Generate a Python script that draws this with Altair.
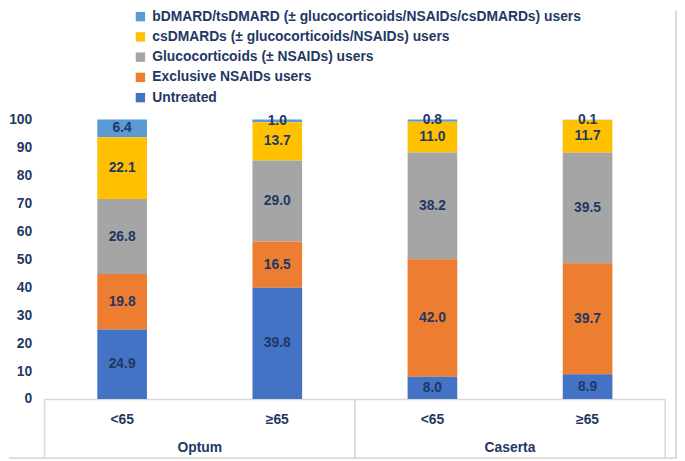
import altair as alt
import pandas as pd

groups = ["Optum", "Optum", "Caserta", "Caserta"]
ages = ["<65", "≥65", "<65", "≥65"]

series_names = [
    "bDMARD/tsDMARD (± glucocorticoids/NSAIDs/csDMARDs) users",
    "csDMARDs (± glucocorticoids/NSAIDs) users",
    "Glucocorticoids (± NSAIDs) users",
    "Exclusive NSAIDs users",
    "Untreated",
]
bdmard = [6.4, 1.0, 0.8, 0.1]
csdmard = [22.1, 13.7, 11.0, 11.7]
gluco = [26.8, 29.0, 38.2, 39.5]
nsaids = [19.8, 16.5, 42.0, 39.7]
untreated = [24.9, 39.8, 8.0, 8.9]
series_values = [bdmard, csdmard, gluco, nsaids, untreated]
series_colors = ["#5B9BD5", "#FFC000", "#A5A5A5", "#ED7D31", "#4472C4"]

NAVY = "#1F3864"
FONT = "Liberation Sans"
LINE = "#D9D9D9"
W, H = 628, 283

rows = []
keys = [f"{g} {a}" for g, a in zip(groups, ages)]
for si, (name, vals) in enumerate(zip(series_names, series_values)):
    for i, v in enumerate(vals):
        rows.append({"key": keys[i], "group": groups[i], "age": ages[i],
                     "series": name, "order": len(series_names) - si, "value": v})
df = pd.DataFrame(rows)

cat_df = pd.DataFrame({"key": keys, "group": groups, "age": ages})
grp_df = pd.DataFrame({"group": ["Optum", "Caserta"]})

xscale = alt.Scale(domain=keys, paddingInner=0, paddingOuter=0)
gscale = alt.Scale(domain=["Optum", "Caserta"], paddingInner=0, paddingOuter=0)
yscale = alt.Scale(domain=[0, 100], nice=False)
yaxis = alt.Axis(values=list(range(0, 101, 10)), grid=False, ticks=False,
                 domain=False, title=None, labelFont=FONT, labelFontSize=14,
                 labelFontWeight="bold", labelColor=NAVY, labelPadding=13)

base = alt.Chart(df).transform_stack(
    stack="value", groupby=["key"], sort=[alt.SortField("order", order="ascending")],
    as_=["y0", "y1"]
).transform_calculate(mid="(datum.y0 + datum.y1) / 2")

bars = base.mark_bar(width=alt.RelativeBandSize(0.32)).encode(
    x=alt.X("key:N", scale=xscale, sort=keys,
            axis=alt.Axis(labels=False, ticks=False, title=None, domain=True,
                          domainColor=LINE, domainWidth=1.5)),
    y=alt.Y("y0:Q", scale=yscale, axis=yaxis, title=None),
    y2="y1:Q",
    color=alt.Color("series:N", scale=alt.Scale(domain=series_names, range=series_colors),
                    legend=alt.Legend(title=None, orient="none", legendX=90, legendY=-111,
                                      symbolType="square", symbolSize=90,
                                      symbolStrokeWidth=0, labelFont=FONT,
                                      labelFontSize=14, labelFontWeight="bold",
                                      labelColor=NAVY, rowPadding=6.5, labelOffset=5,
                                      padding=0, labelLimit=600)),
)

labels = base.mark_text(font=FONT, fontSize=14, fontWeight="bold", color=NAVY,
                        baseline="middle").encode(
    x=alt.X("key:N", scale=xscale, sort=keys, axis=None),
    y=alt.Y("mid:Q", scale=yscale, axis=yaxis, title=None),
    text=alt.Text("value:Q", format=".1f"),
)

age_text = alt.Chart(cat_df).mark_text(font=FONT, fontSize=14, fontWeight="bold",
                                       color=NAVY, baseline="middle").encode(
    x=alt.X("key:N", scale=xscale, sort=keys, axis=None),
    y=alt.value(H + 21),
    text="age:N",
)

grp_text = alt.Chart(grp_df).mark_text(font=FONT, fontSize=14, fontWeight="bold",
                                       color=NAVY, baseline="middle").encode(
    x=alt.X("group:N", scale=gscale, sort=["Optum", "Caserta"], axis=None),
    y=alt.value(H + 50),
    text="group:N",
)

sep_left = alt.Chart(grp_df).mark_rule(color=LINE, strokeWidth=1.5).encode(
    x=alt.X("group:N", scale=gscale, sort=["Optum", "Caserta"], axis=None, bandPosition=0),
    y=alt.value(H), y2=alt.value(H + 60),
)
sep_right = alt.Chart(grp_df).mark_rule(color=LINE, strokeWidth=1.5).encode(
    x=alt.X("group:N", scale=gscale, sort=["Optum", "Caserta"], axis=None, bandPosition=1),
    y=alt.value(H), y2=alt.value(H + 60),
)

frame_bottom = alt.Chart(grp_df).mark_rule(color=LINE, strokeWidth=1.5).encode(
    x=alt.value(-36), x2=alt.value(W + 11), y=alt.value(H + 60))
frame_right = alt.Chart(grp_df).mark_rule(color=LINE, strokeWidth=1.5).encode(
    x=alt.value(W + 11), y=alt.value(-110), y2=alt.value(H + 60))

chart = alt.layer(bars, labels, age_text, grp_text, sep_left, sep_right,
                  frame_bottom, frame_right).resolve_scale(
    x="independent"
).properties(
    width=W, height=H,
    autosize=alt.AutoSizeParams(type="none"),
    padding={"left": 37, "top": 110, "right": 12, "bottom": 62},
).configure_view(stroke=None)

chart.save("out.html", embed_options={"renderer": "svg", "actions": False})
